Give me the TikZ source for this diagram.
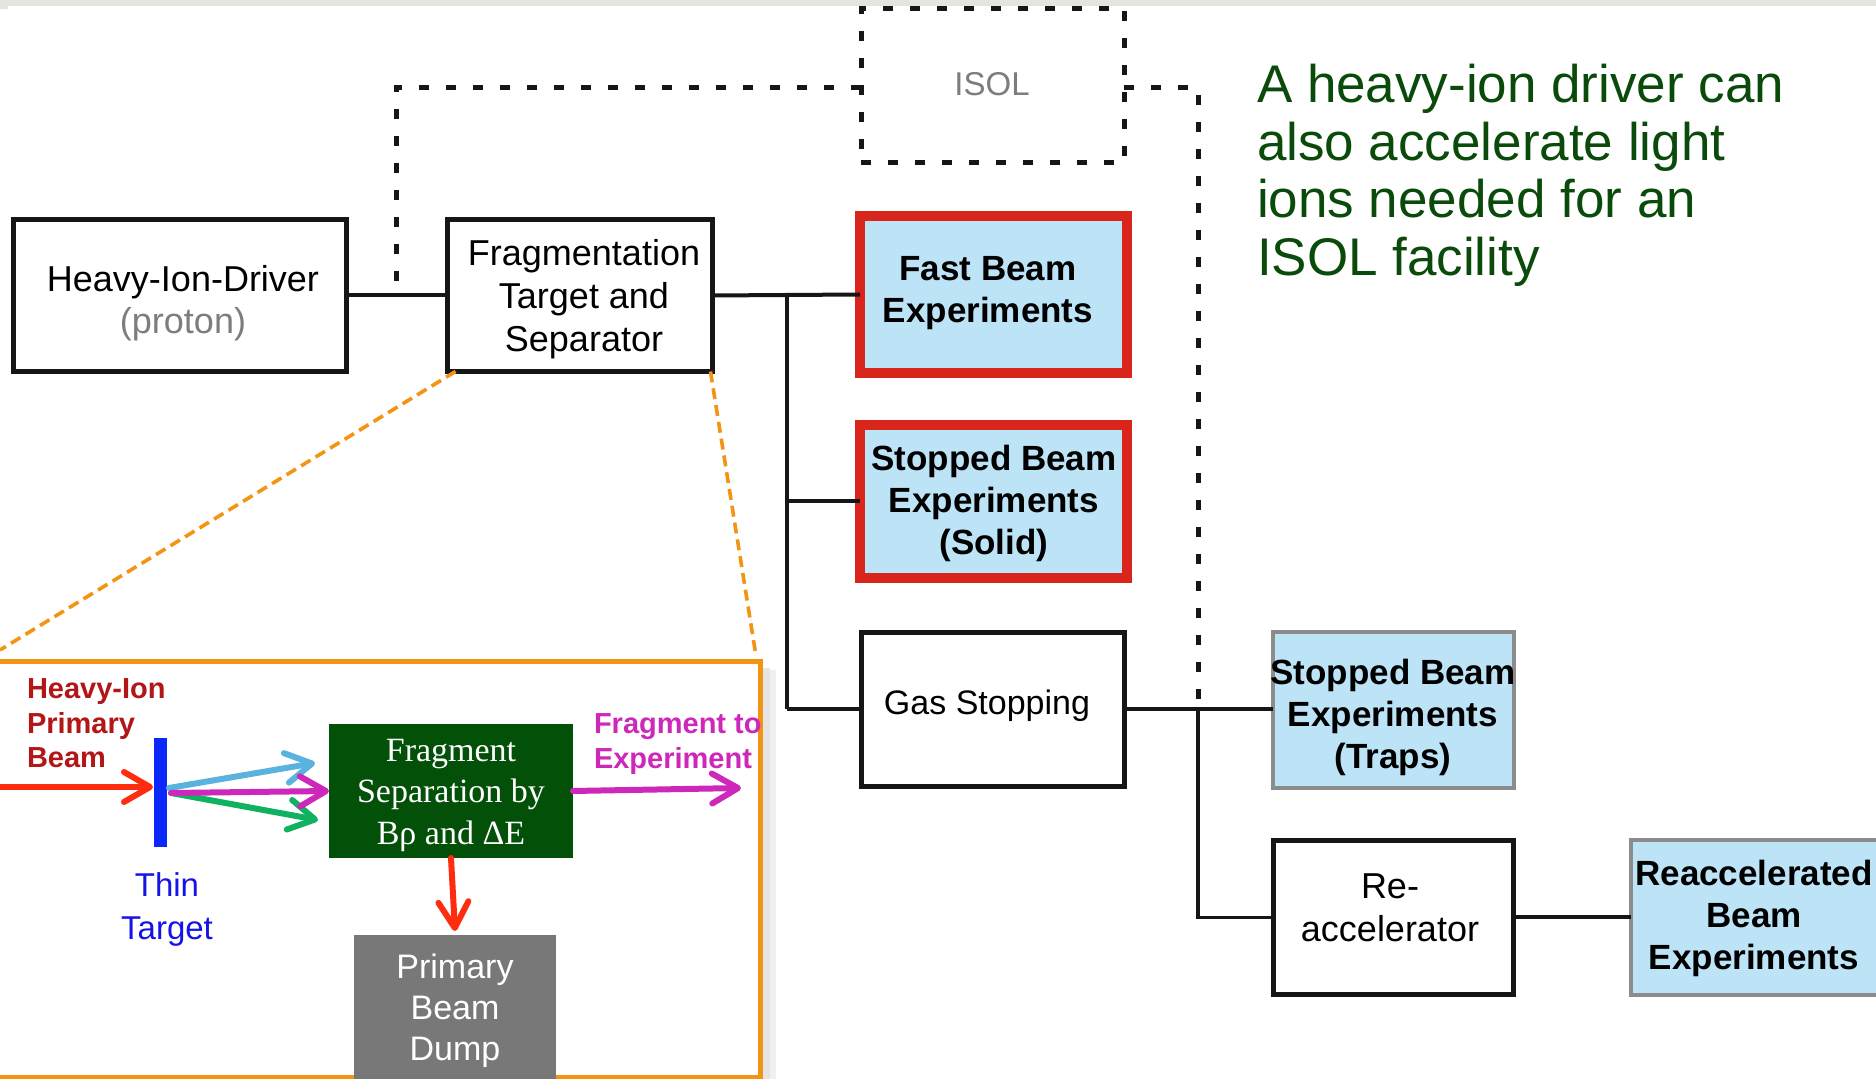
\documentclass[tikz,border=0pt]{standalone}
\usepackage{fontspec}
\setmainfont{Liberation Sans}
\newfontfamily\serifx{Liberation Serif}
\usetikzlibrary{arrows.meta}
\definecolor{topgray}{RGB}{229,229,221}
\definecolor{lineblk}{RGB}{22,22,22}
\definecolor{boxblue}{RGB}{189,227,246}
\definecolor{boxred}{RGB}{218,37,29}
\definecolor{boxgray}{RGB}{140,140,140}
\definecolor{isolgray}{RGB}{125,125,125}
\definecolor{txtgreen}{RGB}{10,74,10}
\definecolor{orangeb}{RGB}{244,148,20}
\definecolor{darkred}{RGB}{178,22,22}
\definecolor{magentab}{RGB}{206,40,186}
\definecolor{tblue}{RGB}{10,40,250}
\definecolor{ttblue}{RGB}{20,20,230}
\definecolor{redarr}{RGB}{255,45,15}
\definecolor{cyanarr}{RGB}{90,178,222}
\definecolor{greenarr}{RGB}{14,178,96}
\definecolor{sepgreen}{RGB}{3,80,8}
\definecolor{dumpgray}{RGB}{120,120,120}
\begin{document}
\begin{tikzpicture}[x=0.5pt,y=-0.5pt,
  box/.style={draw=lineblk,line width=2.5pt,fill=white,inner sep=0pt,outer sep=0pt},
  expred/.style={draw=boxred,line width=5pt,fill=boxblue,inner sep=0pt,outer sep=0pt},
  expgray/.style={draw=boxgray,line width=2pt,fill=boxblue,inner sep=0pt,outer sep=0pt},
  conn/.style={draw=lineblk,line width=2pt},
  busline/.style={draw=lineblk,line width=1.8pt},
  dsh/.style={draw=lineblk,line width=2.5pt,dash pattern=on 5pt off 8.5pt},
  odash/.style={draw=orangeb,line width=1.8pt,dash pattern=on 5.5pt off 3pt},
  txt/.style={inner sep=0pt,outer sep=0pt,align=center,text=black,font=\fontsize{18}{21}\selectfont},
  btxt/.style={inner sep=0pt,outer sep=0pt,align=center,text=black,font=\bfseries\fontsize{17.5}{21}\selectfont},
  barb/.style={line width=3pt,line cap=round,-{Straight Barb[length=13pt,width=15pt,round]}},
]
\useasboundingbox (0,0) rectangle (1876,1079);
\fill[white] (0,0) rectangle (1876,1079);
\fill[topgray] (0,0) rectangle (1876,6);
\fill[topgray] (0,6) rectangle (8,9);

% main boxes
\node[box,minimum width=166.5pt,minimum height=76pt] (drv) at (180,295.5) {};
\node[box,minimum width=132.5pt,minimum height=76pt] (frag) at (580,295.5) {};
\node[dsh,fill=white,inner sep=0pt,outer sep=0pt,minimum width=131.5pt,minimum height=77pt] (isol) at (992.5,86) {};
\node[expred,minimum width=133.5pt,minimum height=78.5pt] (fast) at (993.5,294.5) {};
\node[expred,minimum width=133.5pt,minimum height=76.5pt] (solid) at (993.5,501.5) {};
\node[box,minimum width=131.5pt,minimum height=77pt] (gas) at (993,709.5) {};
\node[expgray,minimum width=120.5pt,minimum height=78pt] (traps) at (1393.5,710) {};
\node[box,minimum width=120pt,minimum height=77pt] (reacc) at (1393.5,917.5) {};
\node[expgray,minimum width=124.5pt,minimum height=77.5pt] (rbx) at (1755.5,917.5) {};

% box texts
\node[txt,anchor=north] (drvt) at (183,265) {Heavy-Ion-Driver\\\textcolor{isolgray}{(proton)}};
\node[txt,anchor=north,font=\fontsize{18}{21.5}\selectfont] (fragt) at (584,239) {Fragmentation\\Target and\\Separator};
\node[txt,text=isolgray,font=\fontsize{16.5}{20}\selectfont] (isolt) at (992,84) {ISOL};
\node[btxt,anchor=north] (fastt) at (988,256) {Fast Beam\\Experiments};
\node[btxt,anchor=north] (solidt) at (994,445) {Stopped Beam\\Experiments\\(Solid)};
\node[txt,anchor=north,font=\fontsize{17}{21}\selectfont] (gast) at (987,690) {Gas Stopping};
\node[btxt,anchor=north] (trapst) at (1393,659) {Stopped Beam\\Experiments\\(Traps)};
\node[txt,anchor=north,font=\fontsize{18}{21.5}\selectfont] (reacct) at (1390,874) {Re-\\accelerator};
\node[btxt,anchor=north] (rbxt) at (1754,860) {Reaccelerated\\Beam\\Experiments};

% connectors
\coordinate (bus1) at (787,295.5);
\coordinate (bus2) at (787,501.5);
\coordinate (bus3) at (787,709.5);
\coordinate (j1) at (1198,709.5);
\coordinate (j2) at (1198,917.5);
\coordinate (d1) at (396,88);
\coordinate (d2) at (396,295.5);
\coordinate (d3) at (1198,88);
\draw[conn] (drv.east) -- (frag.west);
\draw[conn] (frag.east) -- (fast.west);
\draw[busline] (bus1) -- (bus3);
\draw[conn] (bus2) -- (solid.west);
\draw[conn] (bus3) -- (gas.west);
\draw[conn] (gas.east) -- (gas.east -| traps.west);
\draw[busline] (j1) -- (j2) -- (reacc.west);
\draw[conn] (reacc.east) -- (rbx.west);
\draw[dsh] (isol.west |- d1) -- (d1) -- (d2);
\draw[dsh] (isol.east |- d3) -- (d3) -- (j1);

% green note
\node[inner sep=0pt,outer sep=0pt,anchor=north west,align=left,text=txtgreen,font=\fontsize{26.5}{28.9}\selectfont] (note) at (1257,64)
  {A heavy-ion driver can\\also accelerate light\\ions needed for an\\ISOL facility};

% zoom lines
\coordinate (o1) at (0,650);
\coordinate (o2) at (756,656);
\draw[odash] ([xshift=4pt]frag.south west) -- (o1);
\draw[odash] ([xshift=-1pt]frag.south east) -- (o2);

% inset
\fill[black,opacity=0.10] (763,668) rectangle (770,1079);
\fill[black,opacity=0.06] (770,670) rectangle (776,1079);
\node[draw=orangeb,line width=2.5pt,fill=white,inner sep=0pt,outer sep=0pt,minimum width=385.25pt,minimum height=207.5pt] (inset) at (375.25,869.5) {};

\node[fill=tblue,inner sep=0pt,outer sep=0pt,minimum width=6.5pt,minimum height=54.5pt] (tgt) at (160.5,792.5) {};
\node[fill=sepgreen,inner sep=0pt,outer sep=0pt,minimum width=122pt,minimum height=67pt] (sep) at (451,791) {};
\node[fill=dumpgray,inner sep=0pt,outer sep=0pt,minimum width=101pt,minimum height=77.5pt] (dump) at (455,1012.5) {};

\node[inner sep=0pt,outer sep=0pt,anchor=north,align=center,text=white,font=\serifx\fontsize{17}{20.8}\selectfont] (sept) at (451,739) {Fragment\\Separation by\\Bρ and ΔE};
\node[inner sep=0pt,outer sep=0pt,anchor=north,align=center,text=white,font=\fontsize{17}{20.5}\selectfont] (dumpt) at (455,954) {Primary\\Beam\\Dump};
\node[inner sep=0pt,outer sep=0pt,anchor=north west,align=left,text=darkred,font=\bfseries\fontsize{14.5}{17.25}\selectfont] (hib) at (27,679) {Heavy-Ion\\Primary\\Beam};
\node[inner sep=0pt,outer sep=0pt,anchor=north west,align=left,text=magentab,font=\bfseries\fontsize{14.5}{17.5}\selectfont] (fte) at (594,714) {Fragment to\\Experiment};
\node[inner sep=0pt,outer sep=0pt,anchor=north,align=center,text=ttblue,font=\fontsize{16.5}{21.5}\selectfont] (tt) at (167,873) {Thin\\Target};

\coordinate (rin) at (0,787);
\coordinate (rend) at (153,787);
\coordinate (cs) at (169,788);
\coordinate (ce) at (315,763);
\coordinate (ms) at (171,793);
\coordinate (gs) at (171,793);
\coordinate (ge) at (318,820);
\coordinate (mo) at (741,788);
\draw[barb,draw=redarr] (rin) -- (rend);
\draw[barb,draw=cyanarr] (cs) -- (ce);
\draw[barb,draw=greenarr] (gs) -- (ge);
\draw[barb,draw=magentab] (ms) -- (sep.west);
\draw[barb,draw=magentab] (sep.east) -- (mo);
\draw[barb,draw=redarr] (sep.south) -- ([yshift=2pt]dump.north);
\end{tikzpicture}
\end{document}
